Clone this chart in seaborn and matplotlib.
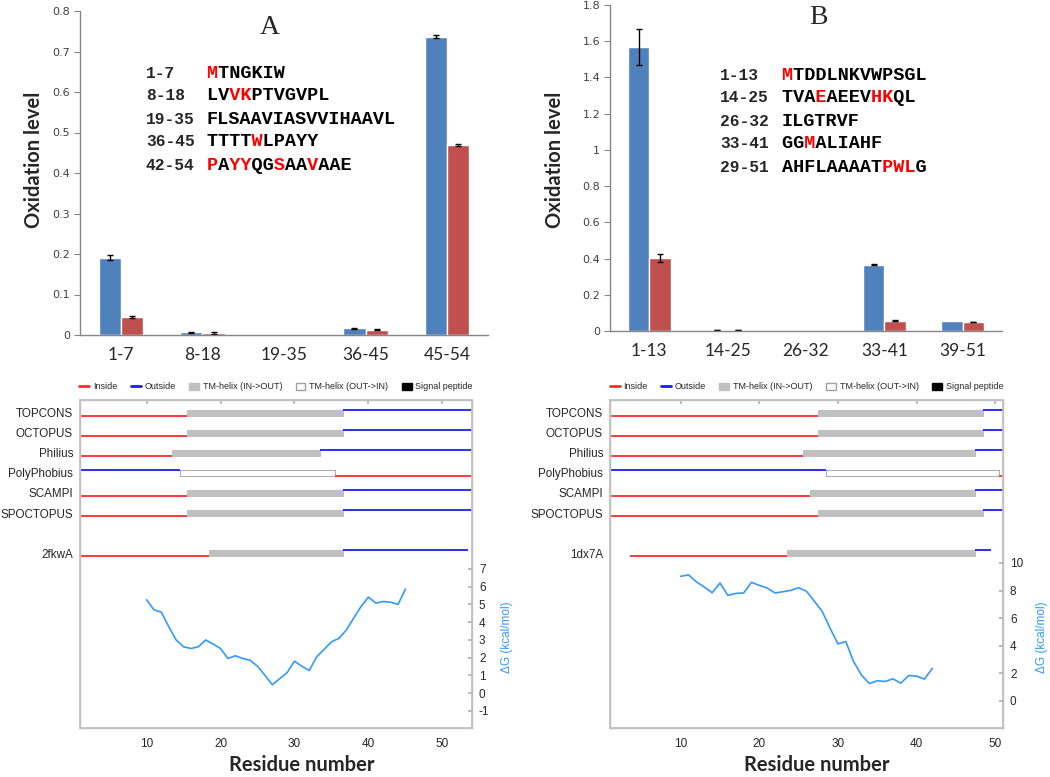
import numpy as np
import pandas as pd
import matplotlib
matplotlib.use("Agg")
import matplotlib.pyplot as plt
from matplotlib.lines import Line2D
from matplotlib.patches import Patch
import seaborn as sns

W, H = 1050, 777
BLUE = "#4f81bd"
RED = "#c0504d"
IN_COL = "#ff2b2b"
OUT_COL = "#1a1aff"
DG_COL = "#3399ff"

# ---- panel A: oxidation levels ----
peptides_a = ["1-7", "8-18", "19-35", "36-45", "45-54"]
ox_blue_a = [0.191, 0.0068, 0.0, 0.0165, 0.737]
ox_red_a = [0.0445, 0.0045, 0.0, 0.013, 0.469]
err_blue_a = [0.006, 0.001, 0.0, 0.001, 0.004]
err_red_a = [0.003, 0.003, 0.0, 0.001, 0.002]
ox_ticks_a = [0, 0.1, 0.2, 0.3, 0.4, 0.5, 0.6, 0.7, 0.8]

seq_ranges_a = ["1-7", "8-18", "19-35", "36-45", "42-54"]
seq_a = ["MTNGKIW", "LVVKPTVGVPL", "FLSAAVIASVVIHAAVL", "TTTTWLPAYY", "PAYYQGSAAVAAE"]
seq_red_a = [[0], [2, 3], [], [4], [0, 2, 3, 6, 9]]

# ---- panel B: oxidation levels ----
peptides_b = ["1-13", "14-25", "26-32", "33-41", "39-51"]
ox_blue_b = [1.566, 0.006, 0.0, 0.367, 0.053]
ox_red_b = [0.403, 0.005, 0.0, 0.057, 0.049]
err_blue_b = [0.099, 0.002, 0.0, 0.002, 0.0]
err_red_b = [0.02, 0.002, 0.0, 0.003, 0.001]
ox_ticks_b = [0, 0.2, 0.4, 0.6, 0.8, 1.0, 1.2, 1.4, 1.6, 1.8]

seq_ranges_b = ["1-13", "14-25", "26-32", "33-41", "29-51"]
seq_b = ["MTDDLNKVWPSGL", "TVAEAEEVHKQL", "ILGTRVF", "GGMALIAHF", "AHFLAAAATPWLG"]
seq_red_b = [[0], [3, 8, 9], [], [2], [9, 10, 11]]

# ---- topology predictions ----
methods = ["TOPCONS", "OCTOPUS", "Philius", "PolyPhobius", "SCAMPI", "SPOCTOPUS"]
n_term = ["in", "in", "in", "out", "in", "in"]
tm_start_a = [15.5, 15.5, 13.5, 14.5, 15.5, 15.5]
tm_end_a = [36.5, 36.5, 33.5, 35.5, 36.5, 36.5]
len_a = 54
pdb_a = "2fkwA"
pdb_seg_a = [1, 18.5, 36.5, 53.5]

tm_start_b = [27.5, 27.5, 25.5, 28.5, 26.5, 27.5]
tm_end_b = [48.5, 48.5, 47.5, 50.5, 47.5, 48.5]
len_b = 51
pdb_b = "1dx7A"
pdb_seg_b = [3.5, 23.5, 47.5, 49.5]

# ---- delta G profiles ----
res_a = list(range(10, 46))
dg_a = [5.26, 4.69, 4.56, 3.74, 2.99, 2.61, 2.51, 2.61, 2.99, 2.76, 2.51, 1.95,
        2.10, 1.95, 1.85, 1.51, 1.00, 0.47, 0.81, 1.15, 1.80, 1.51, 1.27, 2.04,
        2.46, 2.89, 3.08, 3.55, 4.22, 4.88, 5.41, 5.07, 5.16, 5.12, 5.00, 5.86]
dg_ticks_a = [-1, 0, 1, 2, 3, 4, 5, 6, 7]

res_b = list(range(10, 43))
dg_b = [9.03, 9.13, 8.62, 8.25, 7.84, 8.54, 7.65, 7.79, 7.82, 8.59, 8.37, 8.18,
        7.82, 7.91, 8.01, 8.20, 7.94, 7.23, 6.48, 5.27, 4.13, 4.30, 2.84, 1.87,
        1.26, 1.46, 1.41, 1.60, 1.29, 1.84, 1.80, 1.58, 2.35]
dg_ticks_b = [0, 2, 4, 6, 8, 10]

res_ticks = [10, 20, 30, 40, 50]

sns.set_theme(style="white")
plt.rcParams["font.family"] = ["DejaVu Sans"]

fig = plt.figure(figsize=(W / 100, H / 100), dpi=100)


def px_axes(l, t, r, b):
    return fig.add_axes([l / W, 1 - b / H, (r - l) / W, (b - t) / H])


def ftext(x, y, s, **kw):
    return fig.text(x / W, 1 - y / H, s, **kw)


def bar_panel(box, cats, blue, red, eb, er, ticks, title, title_xy, ylab_xy):
    ax = px_axes(*box)
    df = pd.DataFrame({
        "peptide": cats * 2,
        "series": ["s1"] * len(cats) + ["s2"] * len(cats),
        "value": blue + red,
    })
    sns.barplot(data=df, x="peptide", y="value", hue="series",
                palette=[BLUE, RED], width=0.55, gap=0, saturation=1,
                errorbar=None, legend=False, ax=ax)
    for cont, vals, errs in zip(ax.containers, (blue, red), (eb, er)):
        xs = [b.get_x() + b.get_width() / 2 for b in cont]
        keep = [i for i, e in enumerate(errs) if e > 0]
        ax.errorbar([xs[i] for i in keep], [vals[i] for i in keep],
                    yerr=[errs[i] for i in keep], fmt="none", ecolor="black",
                    elinewidth=1, capsize=2.5, capthick=1)
    ax.set_ylim(ticks[0], ticks[-1])
    ax.set_yticks(ticks)
    ax.set_yticklabels([f"{t:g}" for t in ticks], fontsize=8, color="#404040")
    ax.set_xlabel("")
    ax.set_ylabel("")
    for lab in ax.get_xticklabels():
        lab.set_fontfamily("Lato")
        lab.set_fontsize(12.5)
    ax.tick_params(axis="x", length=0, pad=9)
    ax.tick_params(axis="y", direction="out", length=4, width=0.8,
                   color="#868686", pad=3, left=True)
    sns.despine(ax=ax)
    for sp in ("left", "bottom"):
        ax.spines[sp].set_color("#868686")
        ax.spines[sp].set_linewidth(1.0)
    ftext(*title_xy, title, family="Liberation Serif", fontsize=20,
          ha="center", va="center")
    ftext(*ylab_xy, "Oxidation level", family="Lato", weight="bold",
          fontsize=14.5, rotation=90, ha="center", va="center")
    return ax


def seq_block(x_rng, x_seq, ys, ranges, seqs, reds):
    for y, rg, s, red in zip(ys, ranges, seqs, reds):
        ftext(x_rng, y, rg, family="Liberation Mono", weight="bold",
              fontsize=11.7, va="center")
        black = "".join(" " if i in red else c for i, c in enumerate(s))
        redtxt = "".join(c if i in red else " " for i, c in enumerate(s))
        for txt, col in ((black, "black"), (redtxt, "#ff0000")):
            ftext(x_seq, y, txt, family="Liberation Mono", weight="bold",
                  fontsize=13.3, va="center", color=col)


def topo_row(ax, y, start, s, e, end, first, tm_face, tm_edge):
    h = 0.17
    side_y = {"in": y + h, "out": y - h}
    side_c = {"in": IN_COL, "out": OUT_COL}
    last = "out" if first == "in" else "in"
    ax.hlines(side_y[first], start, s, color=side_c[first], lw=1.3)
    ax.hlines(side_y[last], e, end, color=side_c[last], lw=1.3)
    ax.broken_barh([(s, e - s)], (y - h, 2 * h), facecolor=tm_face,
                   edgecolor=tm_edge, lw=0.8)


def topo_panel(box, tm_start, tm_end, length, pdb, pdb_seg, res, dg,
               dg_ticks, dg_lim, dg_lab_x):
    ax = px_axes(*box)
    ax.set_xlim(1, length)
    ax.set_ylim(15.75, -0.65)
    for r, (s, e, nt) in enumerate(zip(tm_start, tm_end, n_term)):
        if nt == "in":
            topo_row(ax, r, 1, s, e, length, nt, "#c0c0c0", "#c0c0c0")
        else:
            topo_row(ax, r, 1, s, e, length, nt, "white", "#b0b0b0")
    topo_row(ax, 7, pdb_seg[0], pdb_seg[1], pdb_seg[2], pdb_seg[3], "in",
             "#c0c0c0", "#c0c0c0")
    ax.set_yticks(list(range(len(methods))) + [7])
    ax.set_yticklabels(methods + [pdb], family="Liberation Sans", fontsize=8.4)
    ax.tick_params(axis="y", length=0, pad=5)
    ax.set_xticks(res_ticks)
    ax.set_xticklabels([str(t) for t in res_ticks], family="Liberation Sans",
                       fontsize=8.5)
    ax.tick_params(axis="x", top=True, bottom=False, direction="in", length=3,
                   color="#b0b0b0", pad=7)
    for sp in ax.spines.values():
        sp.set_visible(True)
        sp.set_color("#c0c0c0")
        sp.set_linewidth(1.0)

    handles = [Line2D([], [], color=IN_COL, lw=2),
               Line2D([], [], color=OUT_COL, lw=2),
               Patch(facecolor="#c0c0c0", edgecolor="#c0c0c0"),
               Patch(facecolor="white", edgecolor="#a0a0a0"),
               Patch(facecolor="black", edgecolor="black")]
    labels = ["Inside", "Outside", "TM-helix (IN->OUT)", "TM-helix (OUT->IN)",
              "Signal peptide"]
    ax.legend(handles, labels, loc="center", bbox_to_anchor=(0.5, 1.04),
              ncol=5, frameon=False, prop={"family": "Liberation Sans", "size": 6.5},
              handlelength=1.1, handleheight=0.8, handletextpad=0.4,
              columnspacing=1.5)

    ax2 = ax.twinx()
    sns.lineplot(x=res, y=dg, ax=ax2, color=DG_COL, lw=1.2)
    ax2.set_ylim(*dg_lim)
    ax2.set_yticks(dg_ticks)
    ax2.set_yticklabels([str(t) for t in dg_ticks], family="Liberation Sans",
                        fontsize=8.5)
    ax2.tick_params(axis="y", right=True, direction="in", length=3,
                    color="#b0b0b0", pad=5)
    ax2.grid(False)
    for sp in ax2.spines.values():
        sp.set_visible(True)
        sp.set_color("#c0c0c0")
    ax2.set_ylabel("")
    ftext(dg_lab_x, 637, "\u0394G (kcal/mol)", family="Liberation Sans",
          fontsize=8.5, color=DG_COL, rotation=90, ha="center", va="center")
    return ax


bar_panel((80, 11, 488, 335), peptides_a, ox_blue_a, ox_red_a, err_blue_a,
          err_red_a, ox_ticks_a, "A", (270, 27), (34, 160))
bar_panel((610, 5, 1002, 331), peptides_b, ox_blue_b, ox_red_b, err_blue_b,
          err_red_b, ox_ticks_b, "B", (818, 18), (555, 160))

seq_block(146, 207, [73, 96, 120, 142, 166], seq_ranges_a, seq_a, seq_red_a)
seq_block(720, 782, [75, 98, 121, 144, 167], seq_ranges_b, seq_b, seq_red_b)

topo_panel((80, 400, 472, 728), tm_start_a, tm_end_a, len_a, pdb_a, pdb_seg_a,
           res_a, dg_a, dg_ticks_a, (-1.97, 16.52), 507)
topo_panel((610, 400, 1003, 728), tm_start_b, tm_end_b, len_b, pdb_b, pdb_seg_b,
           res_b, dg_b, dg_ticks_b, (-1.96, 21.8), 1042)

ftext(302, 765, "Residue number", family="Lato", weight="bold", fontsize=14.5,
      ha="center", va="center")
ftext(817, 765, "Residue number", family="Lato", weight="bold", fontsize=14.5,
      ha="center", va="center")

fig.savefig("out.png", dpi=100)
